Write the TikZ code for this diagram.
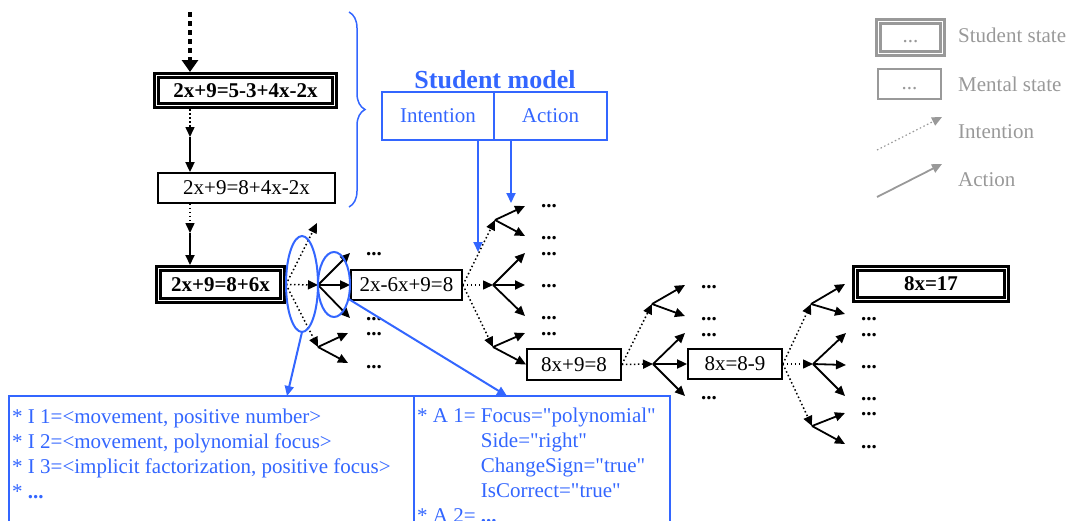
\documentclass[tikz,border=0pt]{standalone}
\usepackage{fontspec}
\setmainfont{Liberation Serif}[Ligatures=TeXOff]
\usetikzlibrary{
	arrows.meta,
	shapes.geometric,
	decorations.pathreplacing
}
\definecolor{modelblue}{RGB}{51,102,255}
\definecolor{legendgray}{RGB}{153,153,153}
\tikzset{
	txt/.style={font=\fontsize{21}{25}\selectfont},
	mental/.style={
		txt, draw, line width=1.8pt,
		inner sep=0pt, minimum height=30pt
	},
	student/.style={
		draw, line width=2.6pt, double, double distance=1.8pt,
		outer sep=3.5pt, inner sep=0pt, minimum height=32pt,
		font=\fontsize{21}{25}\selectfont\bfseries
	},
	intention/.style={
		-{Triangle[length=10pt,width=9pt]},
		line width=1.5pt, dash pattern=on 1.5pt off 2.5pt
	},
	action/.style={
		-{Triangle[length=10pt,width=9pt]},
		line width=1.8pt
	},
	etc/.style={
		anchor=base west, inner sep=0pt,
		font=\fontsize{21}{25}\selectfont\bfseries
	},
	model/.style={draw=modelblue, line width=2pt, text=modelblue},
	modelarrow/.style={
		modelblue, line width=2pt,
		-{Triangle[length=10pt,width=9pt]}
	}
}

\begin{document}
\begin{tikzpicture}[x=1pt, y=-1pt]
	\useasboundingbox (0,0) rectangle (1072,520);
	\clip (0,0) rectangle (1072,520);

	%% states
	\node[student, minimum width=178pt, minimum height=30pt] (s1) at (245.5,90.5) {2x+9=5-3+4x-2x};
	\node[mental, minimum width=177pt] (m1) at (246.5,188) {2x+9=8+4x-2x};
	\node[student, minimum width=124pt] (s2) at (220.5,284.5) {2x+9=8+6x};
	\node[mental, minimum width=111pt] (m2) at (406.5,285) {2x-6x+9=8};
	\node[mental, minimum width=94pt, minimum height=31pt] (m3) at (574,364.5) {8x+9=8};
	\node[mental, minimum width=94pt] (m4) at (735,364) {8x=8-9};
	\node[student, minimum width=151pt, minimum height=31pt] (s3) at (931,284) {8x=17};

	%% first steps
	\coordinate (top) at (190,12);
	\coordinate (v1) at (190,137);
	\coordinate (v2) at (190,233);
	\draw[line width=4pt, dash pattern=on 4.5pt off 4.5pt,
		-{Triangle[length=12pt,width=16pt]}] (top) -- (s1.north -| top);
	\draw[intention] (s1.south -| v1) -- (v1);
	\draw[action] (v1) -- (m1.north -| v1);
	\draw[intention] (m1.south -| v2) -- (v2);
	\draw[action] (v2) -- (s2.north -| v2);

	%% fan after 2x+9=8+6x
	\coordinate (a1) at (317,223);
	\coordinate (a2) at (318,285);
	\coordinate (a3) at (318,347);
	\coordinate (a2u) at (350,253);
	\coordinate (a2d) at (350,318);
	\coordinate (a3u) at (348,333);
	\coordinate (a3d) at (348,363);
	\foreach \p in {a1,a2,a3} \draw[intention] (s2.east) -- (\p);
	\foreach \t in {a2u,m2.west,a2d} \draw[action] (a2) -- (\t);
	\foreach \t in {a3u,a3d} \draw[action] (a3) -- (\t);
	\foreach \y in {254,319,334,367} \node[etc] (ea\y) at (366,\y+1.5) {...};

	%% fan after 2x-6x+9=8
	\coordinate (b1) at (495,220);
	\coordinate (b2) at (493,285);
	\coordinate (b3) at (493,347);
	\coordinate (b1u) at (525,206);
	\coordinate (b1d) at (525,236);
	\coordinate (b2u) at (525,253);
	\coordinate (b2m) at (525,285);
	\coordinate (b2d) at (525,316);
	\coordinate (b3u) at (525,333);
	\foreach \p in {b1,b2,b3} \draw[intention] (m2.east) -- (\p);
	\foreach \t in {b1u,b1d} \draw[action] (b1) -- (\t);
	\foreach \t in {b2u,b2m,b2d} \draw[action] (b2) -- (\t);
	\foreach \t in {b3u,m3.west} \draw[action] (b3) -- (\t);
	\foreach \y in {206,238,254,286,318,334} \node[etc] (eb\y) at (541,\y+1.5) {...};

	%% fan after 8x+9=8
	\coordinate (c1) at (652,304);
	\coordinate (c2) at (653,364);
	\coordinate (c1u) at (685,285);
	\coordinate (c1d) at (685,316);
	\coordinate (c2u) at (685,333);
	\coordinate (c2d) at (685,396);
	\foreach \p in {c1,c2} \draw[intention] (m3.east) -- (\p);
	\foreach \t in {c1u,c1d} \draw[action] (c1) -- (\t);
	\foreach \t in {c2u,m4.west,c2d} \draw[action] (c2) -- (\t);
	\foreach \y in {287,319,335,398} \node[etc] (ec\y) at (701,\y+1.5) {...};

	%% fan after 8x=8-9
	\coordinate (d1) at (811,304);
	\coordinate (d2) at (813,364);
	\coordinate (d3) at (812,426);
	\coordinate (d1u) at (845,284);
	\coordinate (d1d) at (845,314);
	\coordinate (d2u) at (846,333);
	\coordinate (d2m) at (846,365);
	\coordinate (d2d) at (845,396);
	\coordinate (d3u) at (845,413);
	\coordinate (d3d) at (845,444);
	\foreach \p in {d1,d2,d3} \draw[intention] (m4.east) -- (\p);
	\foreach \t in {d1u,d1d} \draw[action] (d1) -- (\t);
	\foreach \t in {d2u,d2m,d2d} \draw[action] (d2) -- (\t);
	\foreach \t in {d3u,d3d} \draw[action] (d3) -- (\t);
	\foreach \y in {319,335,367,399,414,447} \node[etc] (ed\y) at (861,\y+1.5) {...};

	%% student model
	\draw[modelblue, line width=1.5pt, decorate, decoration={brace, amplitude=16pt}]
		(349,12) -- (349,207);
	\node[text=modelblue, font=\fontsize{26}{30}\selectfont\bfseries, anchor=base] (title) at (495,88) {Student model};
	\node[model, txt, inner sep=0pt, minimum width=112pt, minimum height=48pt] (intent) at (438,116) {Intention};
	\node[model, txt, inner sep=0pt, minimum width=113pt, minimum height=48pt] (act) at (550.5,116) {Action};
	\coordinate (ia) at (478,252);
	\coordinate (aa) at (511,203);
	\draw[modelarrow] (intent.south -| ia) -- (ia);
	\draw[modelarrow] (act.south -| aa) -- (aa);

	\node[model, ellipse, inner sep=0pt, outer sep=0pt, minimum width=32pt, minimum height=96pt] (e1) at (302,284) {};
	\node[model, ellipse, inner sep=0pt, outer sep=0pt, minimum width=32pt, minimum height=65pt] (e2) at (334,284.5) {};

	\node[model, inner sep=0pt, outer sep=0pt, minimum width=405pt, minimum height=150pt, anchor=north west] (ibox) at (9,396) {};
	\node[model, inner sep=0pt, outer sep=0pt, minimum width=256pt, minimum height=150pt, anchor=north west] (abox) at (414,396) {};
	\coordinate (ti) at (287,396);
	\coordinate (ta) at (507,396);
	\draw[modelarrow] (e1.south) -- (ti);
	\draw[modelarrow] (e2.-45) -- (ta);

	\node[txt, text=modelblue, anchor=base west, inner sep=0pt] (itext) at (12,423) {%
		\begin{tabular}[t]{@{}l@{}}
			{*} I 1=<movement, positive number>\\
			{*} I 2=<movement, polynomial focus>\\
			{*} I 3=<implicit factorization, positive focus>\\
			{*} \textbf{...}
		\end{tabular}};
	\node[txt, text=modelblue, anchor=base west, inner sep=0pt] (atext) at (417,422) {%
		\begin{tabular}[t]{@{}l@{ }l@{}}
			{*} A 1= & Focus="polynomial"\\
			& Side="right"\\
			& ChangeSign="true"\\
			& IsCorrect="true"\\
			{*} A 2= & \textbf{...}
		\end{tabular}};

	%% legend
	\node[student, draw=legendgray, text=legendgray, font=\fontsize{21}{25}\selectfont,
		minimum width=64pt, minimum height=32pt] (lstudent) at (910.5,37.5) {\strut...};
	\node[mental, draw=legendgray, text=legendgray, minimum width=63pt] (lmental) at (909.5,84) {\strut...};
	\coordinate (li0) at (877,150);
	\coordinate (li1) at (942,117);
	\coordinate (la0) at (877,197);
	\coordinate (la1) at (942,164);
	\draw[intention, legendgray, line width=1.2pt] (li0) -- (li1);
	\draw[action, legendgray] (la0) -- (la1);
	\node[txt, text=legendgray, anchor=base west, inner sep=0pt] (lst) at (958,42) {Student state};
	\node[txt, text=legendgray, anchor=base west, inner sep=0pt] (lme) at (958,91) {Mental state};
	\node[txt, text=legendgray, anchor=base west, inner sep=0pt] (lin) at (958,138) {Intention};
	\node[txt, text=legendgray, anchor=base west, inner sep=0pt] (lac) at (958,186) {Action};
\end{tikzpicture}
\end{document}
